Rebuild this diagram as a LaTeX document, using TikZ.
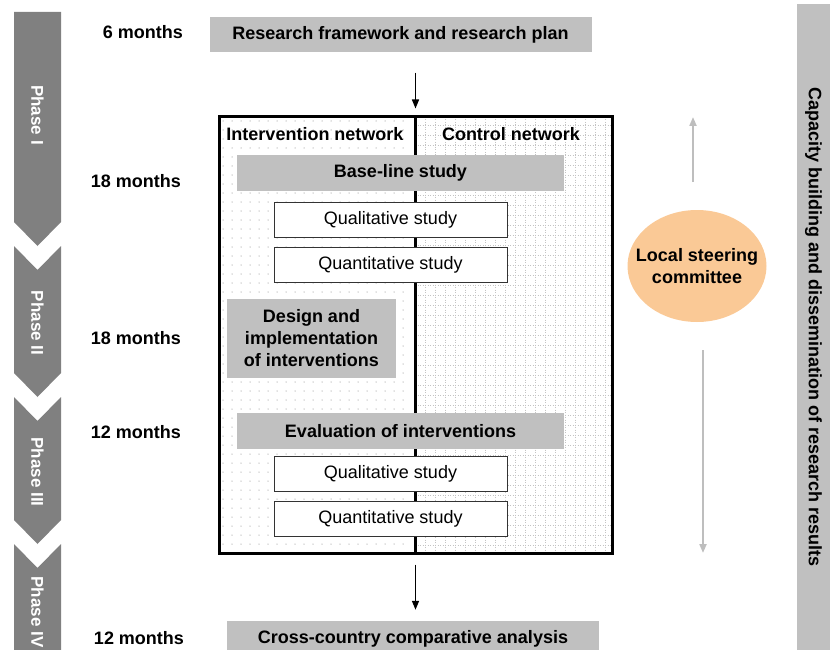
\documentclass[tikz,border=0pt]{standalone}
\usepackage{fontspec}
\setmainfont{Liberation Sans}
\usetikzlibrary{positioning,shapes.geometric,arrows.meta}

\definecolor{boxgray}{RGB}{192,192,192}
\definecolor{phasegray}{RGB}{128,128,128}
\definecolor{peach}{RGB}{250,201,150}
\definecolor{dotgray}{RGB}{195,195,195}
\definecolor{lightarrow}{RGB}{190,190,190}

\tikzstyle{graybox} = [rectangle, fill=boxgray, text centered, inner sep=0pt, font=\bfseries\fontsize{18}{22}\selectfont]
\tikzstyle{study} = [rectangle, draw=black!80, fill=white, line width=0.8pt, inner sep=0pt, minimum width=233, minimum height=35, font=\fontsize{18}{22}\selectfont]
\tikzstyle{month} = [font=\bfseries\fontsize{18}{22}\selectfont]
\tikzstyle{phase} = [rotate=-90, text=white, font=\bfseries\fontsize{17}{20}\selectfont]
\tikzstyle{arr} = [line width=1.5pt, -{Triangle[length=9pt,width=7pt]}]
\tikzstyle{grayarr} = [draw=lightarrow, line width=2pt, -{Triangle[length=9pt,width=7pt]}]

\begin{document}
\begin{tikzpicture}[x=1pt, y=-1pt]
\useasboundingbox (0,0) rectangle (830,650);

% phase chevrons
\fill[phasegray] (14,12) -- (61,12) -- (61,222) -- (37.5,246) -- (14,222) -- cycle;
\fill[phasegray] (14,246) -- (37.5,270) -- (61,246) -- (61,373) -- (37.5,397) -- (14,373) -- cycle;
\fill[phasegray] (14,397) -- (37.5,421) -- (61,397) -- (61,520) -- (37.5,544) -- (14,520) -- cycle;
\fill[phasegray] (14,544) -- (37.5,568) -- (61,544) -- (61,660) -- (14,660) -- cycle;
\node [phase] (p1) at (37.5,115) {Phase I};
\node [phase] (p2) at (37.5,323) {Phase II};
\node [phase] (p3) at (37.5,472) {Phase III};
\node [phase] (p4) at (37.5,612) {Phase IV};

% durations
\node [month] (m1) at (143,32) {6 months};
\node [month] (m2) at (136,181) {18 months};
\node [month] (m3) at (136,338) {18 months};
\node [month] (m4) at (136,432) {12 months};
\node [month] (m5) at (139,638) {12 months};

% network frame with its two backgrounds
\foreach \x in {223,232,...,411}
  \foreach \y in {121,130,...,549}
    \fill[dotgray] (\x,\y) circle (0.75);
\foreach \x in {425,435,...,605}
  \draw[dotgray, line width=0.6pt, dash pattern=on 1pt off 1.5pt] (\x,117) -- (\x,553);
\foreach \y in {125,135,...,545}
  \draw[dotgray, line width=0.6pt, dash pattern=on 1pt off 1.5pt] (415,\y) -- (612,\y);
\node [draw, line width=3pt, minimum width=393, minimum height=436, inner sep=0pt] (net) at (415.5,335) {};
\draw [line width=2.2pt] (net.north) -- (net.south);
\node [month] (int) at (315,134) {Intervention network};
\node [month] (ctl) at (511,134) {Control network};

% steps
\node [graybox, minimum width=382, minimum height=35] (plan) at (400.5,35) {Research framework and research plan};
\node [graybox, minimum width=327, minimum height=36] (base) at (400.5,173) {Base-line study};
\node [study] (qual1) at (390.5,219.5) {Qualitative study};
\node [study, below=10pt of qual1] (quant1) {Quantitative study};
\node [graybox, minimum width=169, minimum height=79, align=center] (design) at (311.5,338.5) {Design and\\implementation\\of interventions};
\node [graybox, minimum width=327, minimum height=36] (eval) at (400.5,431) {Evaluation of interventions};
\node [study] (qual2) at (390.5,473.5) {Qualitative study};
\node [study, below=10pt of qual2] (quant2) {Quantitative study};
\node [graybox, minimum width=372, minimum height=36] (compare) at (413,639) {Cross-country comparative analysis};

\draw [arr, shorten <=20pt, shorten >=7pt] (plan.south -| net.north) -- (net.north);
\draw [arr, shorten <=10pt, shorten >=11pt] (net.south) -- (compare.north -| net.south);

% steering committee
\node [ellipse, fill=peach, minimum width=139, minimum height=112, inner xsep=-12pt, inner ysep=0pt, align=center, month] (steer) at (697,266) {Local steering\\committee};
\coordinate (upA) at (693,182);
\coordinate (upB) at (693,117);
\coordinate (downA) at (703,350);
\coordinate (downB) at (703,553);
\draw [grayarr] (upA) -- (upB);
\draw [grayarr] (downA) -- (downB);

% capacity building bar
\node [rotate=-90, fill=boxgray, minimum width=646, minimum height=33, inner sep=0pt, month] (bar) at (813.5,327) {Capacity building and dissemination of research results};
\end{tikzpicture}
\end{document}
